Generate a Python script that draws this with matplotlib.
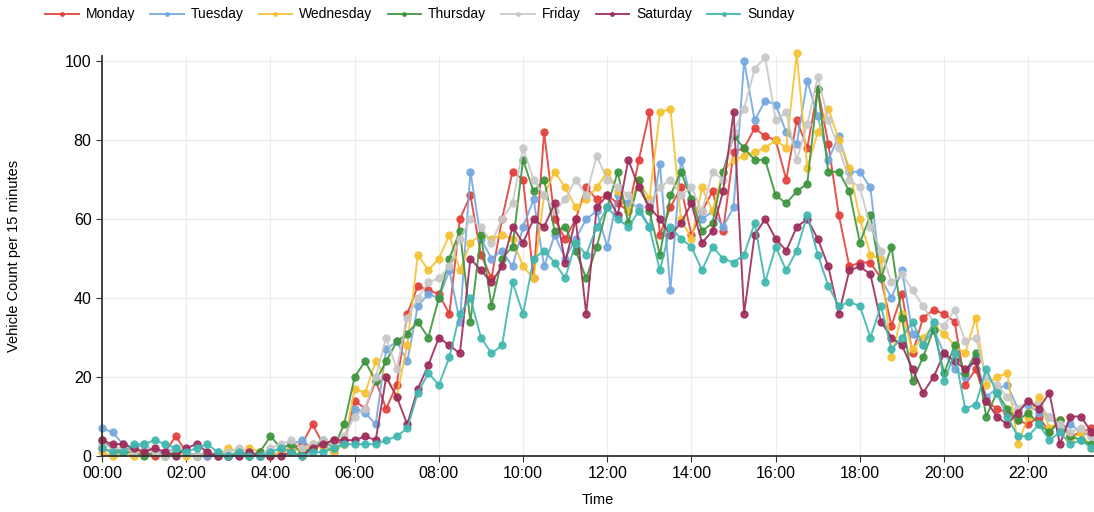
import numpy as np
import matplotlib.pyplot as plt

plt.rcParams['font.family'] = ['Liberation Sans', 'DejaVu Sans']

# vehicle counts per 15 minutes, 96 slots from 00:00 to 23:45
monday = [2, 1, 1, 2, 1, 0, 1, 5,
          1, 0, 0, 0, 0, 1, 0, 1,
          0, 1, 2, 3, 8, 3, 4, 3,
          14, 12, 19, 12, 18, 36, 43, 42,
          41, 36, 60, 66, 51, 45, 60, 72,
          70, 45, 82, 60, 55, 60, 68, 65,
          66, 64, 62, 75, 87, 56, 63, 68,
          56, 62, 67, 57, 77, 78, 83, 81,
          80, 70, 85, 78, 93, 79, 61, 48,
          49, 49, 45, 33, 41, 26, 35, 37,
          36, 34, 18, 22, 14, 12, 11, 9,
          8, 10, 6, 9, 5, 6, 7, 5]
tuesday = [7, 6, 3, 2, 3, 1, 1, 2,
           1, 0, 0, 1, 0, 0, 1, 0,
           1, 2, 3, 4, 2, 3, 1, 4,
           12, 11, 8, 27, 29, 24, 38, 41,
           40, 47, 34, 72, 55, 50, 52, 48,
           58, 65, 48, 56, 50, 55, 60, 62,
           53, 66, 64, 63, 58, 74, 42, 75,
           65, 60, 62, 58, 63, 100, 85, 90,
           89, 82, 79, 95, 86, 75, 81, 72,
           72, 68, 45, 40, 47, 31, 28, 32,
           26, 22, 20, 25, 15, 17, 18, 12,
           13, 11, 10, 7, 8, 6, 5, 4]
wednesday = [1, 0, 1, 0, 2, 1, 0, 1,
             0, 0, 1, 0, 2, 1, 2, 1,
             0, 1, 2, 1, 3, 2, 1, 3,
             17, 16, 24, 20, 15, 28, 51, 47,
             50, 56, 47, 54, 56, 55, 56, 55,
             48, 45, 66, 72, 68, 63, 65, 68,
             72, 67, 62, 70, 65, 87, 88, 60,
             55, 68, 62, 72, 75, 76, 77, 78,
             80, 78, 102, 73, 82, 88, 80, 73,
             60, 51, 50, 25, 36, 27, 30, 33,
             31, 28, 26, 35, 18, 20, 21, 3,
             10, 15, 7, 9, 4, 6, 2, 3]
thursday = [4, 2, 1, 1, 0, 1, 0, 1,
            1, 0, 1, 0, 0, 1, 0, 1,
            5, 2, 3, 1, 2, 4, 2, 8,
            20, 24, 19, 24, 29, 31, 34, 30,
            40, 50, 57, 34, 56, 38, 50, 53,
            75, 67, 70, 57, 58, 52, 45, 53,
            63, 72, 59, 70, 62, 51, 66, 72,
            65, 57, 59, 72, 81, 78, 75, 75,
            66, 64, 67, 69, 93, 72, 72, 67,
            54, 61, 45, 53, 35, 19, 25, 32,
            21, 28, 21, 26, 10, 16, 12, 9,
            11, 8, 6, 9, 5, 4, 3, 2]
friday = [3, 2, 2, 1, 2, 1, 0, 2,
          1, 0, 1, 0, 1, 2, 1, 0,
          2, 3, 4, 2, 3, 4, 3, 5,
          10, 12, 20, 30, 22, 35, 40, 44,
          45, 48, 55, 60, 58, 54, 60, 64,
          78, 70, 66, 62, 65, 70, 66, 76,
          70, 68, 66, 62, 64, 68, 70, 66,
          68, 62, 72, 70, 82, 88, 98, 101,
          85, 87, 75, 84, 96, 85, 78, 70,
          68, 58, 52, 44, 46, 42, 38, 34,
          33, 37, 29, 30, 20, 18, 15, 12,
          14, 13, 10, 8, 6, 7, 5, 4]
saturday = [4, 3, 3, 2, 1, 2, 1, 0,
            2, 3, 1, 0, 0, 0, 1, 0,
            0, 0, 1, 0, 2, 3, 4, 4,
            4, 5, 4, 20, 15, 8, 17, 23,
            30, 28, 26, 50, 47, 44, 48, 58,
            54, 60, 58, 64, 49, 60, 36, 63,
            66, 61, 75, 68, 63, 60, 56, 59,
            64, 54, 57, 67, 87, 36, 56, 60,
            55, 52, 58, 60, 55, 48, 36, 47,
            48, 46, 34, 30, 28, 22, 16, 20,
            26, 24, 22, 24, 14, 10, 8, 11,
            14, 12, 16, 3, 10, 10, 6, 5]
sunday = [2, 1, 1, 3, 3, 4, 3, 2,
          1, 2, 3, 1, 0, 1, 0, 0,
          1, 2, 1, 0, 1, 1, 2, 3,
          3, 3, 3, 4, 5, 7, 16, 21,
          18, 25, 36, 40, 30, 26, 28, 44,
          36, 50, 52, 49, 45, 54, 51, 58,
          63, 60, 58, 62, 58, 47, 58, 55,
          53, 47, 53, 50, 49, 51, 59, 44,
          53, 47, 52, 61, 51, 43, 38, 39,
          38, 30, 38, 27, 30, 34, 28, 34,
          19, 26, 12, 13, 22, 16, 10, 5,
          5, 8, 4, 6, 3, 4, 2, 3]

days = ['Monday', 'Tuesday', 'Wednesday', 'Thursday', 'Friday', 'Saturday', 'Sunday']
series = [monday, tuesday, wednesday, thursday, friday, saturday, sunday]
colors = ['#e2403b', '#74a8df', '#f4c232', '#3d953d', '#c8c8c8', '#9e2b5b', '#40b7b0']

hours = np.arange(96) * 0.25

fig = plt.figure(figsize=(10.94, 5.12), dpi=100)
ax = fig.add_axes([102 / 1094, 56 / 512, 992 / 1094, 400 / 512])

for name, vals, col in zip(days, series, colors):
    ax.plot(hours, vals, color=col, lw=1.4, marker='o', ms=5,
            label=name, alpha=0.9, clip_on=False)

ax.set_xlim(0, 23.56)
ax.set_ylim(0, 101.3)
ax.set_xticks(np.arange(0, 24, 2))
ax.set_xticklabels([f'{h:02d}:00' for h in range(0, 24, 2)])
ax.set_yticks(np.arange(0, 101, 20))
ax.tick_params(labelsize=11.5, length=4, color='#333333')
ax.grid(True, color='#ececec', lw=0.8)
ax.set_axisbelow(True)
for s in ['top', 'right']:
    ax.spines[s].set_visible(False)
for s in ['left', 'bottom']:
    ax.spines[s].set_color('#333333')
    ax.spines[s].set_linewidth(1.3)

ax.set_xlabel('Time', fontsize=10.5, labelpad=8)
ax.set_ylabel('Vehicle Count per 15 minutes', fontsize=10.5, labelpad=32)

fig.legend(loc='upper left', bbox_to_anchor=(0.03, 1.01), ncol=7, frameon=False,
           fontsize=10, handlelength=2.4, columnspacing=1.1, handletextpad=0.5,
           markerscale=0.5)

fig.savefig('out.png', dpi=100)
